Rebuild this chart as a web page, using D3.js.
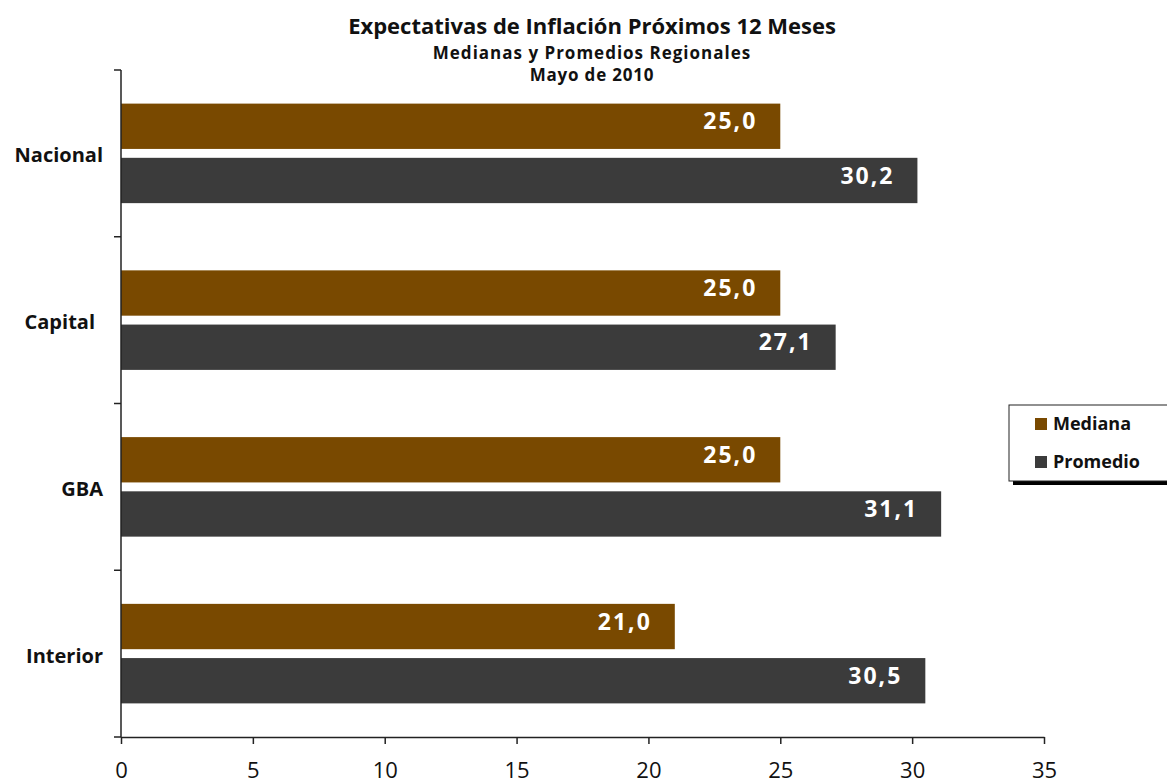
<!DOCTYPE html>
<html>
<head>
<meta charset="utf-8">
<script src="https://cdn.jsdelivr.net/npm/d3@7"></script>
<style>
  body { margin: 0; background: #fff; }
  text { font-family: "Open Sans", "DejaVu Sans", sans-serif; }
</style>
</head>
<body>
<script>
// data
var categories = ["Nacional", "Capital", "GBA", "Interior"]
var series = ["Mediana", "Promedio"]
var mediana = [25.0, 25.0, 25.0, 21.0]
var promedio = [30.2, 27.1, 31.1, 30.5]
var xTicks = [0, 5, 10, 15, 20, 25, 30, 35]
var colors = ["#794900", "#3b3b3b"]

var width = 1167
var height = 783

var svg = d3.select("body")
    .append("svg")
    .attr("width", width)
    .attr("height", height)

var x = d3.scaleLinear().domain([0, 35]).range([121, 1044])
var y = d3.scaleBand().domain(categories).range([70, 737])
var ySub = d3.scaleBand().domain(series).range([0, y.bandwidth()])
    .paddingInner(0.164).paddingOuter(0.62)

var color = d3.scaleOrdinal().domain(series).range(colors)

// titles
var titles = [
    { t: "Expectativas de Inflación Próximos 12 Meses", y: 34, s: 22, ls: 0 },
    { t: "Medianas y Promedios Regionales", y: 59, s: 17, ls: 1 },
    { t: "Mayo de 2010", y: 81, s: 17, ls: 0.8 }
]
svg.selectAll(".title")
    .data(titles)
    .enter()
    .append("text")
    .attr("class", "title")
    .attr("x", 592)
    .attr("y", function(d) { return d.y })
    .attr("text-anchor", "middle")
    .attr("font-weight", "bold")
    .attr("font-size", function(d) { return d.s })
    .attr("letter-spacing", function(d) { return d.ls })
    .attr("fill", "#111")
    .text(function(d) { return d.t })

// bars
var rows = []
categories.forEach(function(c, i) {
    rows.push({ cat: c, ser: "Mediana", v: mediana[i] })
    rows.push({ cat: c, ser: "Promedio", v: promedio[i] })
})

svg.selectAll("rect.bar")
    .data(rows)
    .enter()
    .append("rect")
    .attr("class", "bar")
    .attr("x", x(0))
    .attr("y", function(d) { return y(d.cat) + ySub(d.ser) })
    .attr("width", function(d) { return x(d.v) - x(0) })
    .attr("height", ySub.bandwidth())
    .attr("fill", function(d) { return color(d.ser) })

svg.selectAll("text.val")
    .data(rows)
    .enter()
    .append("text")
    .attr("class", "val")
    .attr("x", function(d) { return x(d.v) - 23 })
    .attr("y", function(d) { return y(d.cat) + ySub(d.ser) + ySub.bandwidth() / 2 - 5 })
    .attr("dy", "0.35em")
    .attr("text-anchor", "end")
    .attr("font-weight", "bold")
    .attr("font-size", 23)
    .attr("letter-spacing", 2)
    .attr("fill", "#fff")
    .text(function(d) { return d3.format(".1f")(d.v).replace(".", ",") })

// x axis
var xAxis = svg.append("g")
    .attr("transform", "translate(0,737)")
    .call(d3.axisBottom(x).tickValues(xTicks).tickSize(7).tickSizeOuter(0).tickPadding(18))
xAxis.select(".domain").attr("stroke", "#222").attr("stroke-width", 1.5)
xAxis.selectAll(".tick line").attr("stroke", "#222").attr("stroke-width", 1.5)
xAxis.selectAll(".tick text")
    .attr("font-size", 22)
    .attr("font-family", "'Open Sans', sans-serif")
    .attr("fill", "#111")

// y axis: line plus ticks at band edges
var edges = categories.map(function(c) { return y(c) }).concat([y.range()[1]])
svg.append("line")
    .attr("x1", x(0)).attr("x2", x(0))
    .attr("y1", y.range()[0]).attr("y2", y.range()[1])
    .attr("stroke", "#222").attr("stroke-width", 1.5)
svg.selectAll("line.ytick")
    .data(edges)
    .enter()
    .append("line")
    .attr("class", "ytick")
    .attr("x1", x(0) - 7).attr("x2", x(0))
    .attr("y1", function(d) { return d }).attr("y2", function(d) { return d })
    .attr("stroke", "#222").attr("stroke-width", 1.5)

svg.selectAll("text.cat")
    .data(categories)
    .enter()
    .append("text")
    .attr("class", "cat")
    .attr("x", function(d) { return d === "Capital" ? 95 : 103 })
    .attr("y", function(d) { return y(d) + y.bandwidth() / 2 + 2 })
    .attr("dy", "0.35em")
    .attr("text-anchor", "end")
    .attr("font-weight", "bold")
    .attr("font-size", 20)
    .attr("fill", "#111")
    .text(function(d) { return d })

// legend
var lg = svg.append("g").attr("transform", "translate(1009,405)")
lg.append("rect")
    .attr("x", 4).attr("y", 4).attr("width", 170).attr("height", 76)
    .attr("fill", "#000")
lg.append("rect")
    .attr("x", 0).attr("y", 0).attr("width", 170).attr("height", 76)
    .attr("fill", "#fff").attr("stroke", "#222").attr("stroke-width", 1)

var items = lg.selectAll("g.item")
    .data(series)
    .enter()
    .append("g")
    .attr("class", "item")
    .attr("transform", function(d, i) { return "translate(26," + (19 + i * 38) + ")" })
items.append("rect")
    .attr("x", 0).attr("y", -6).attr("width", 12).attr("height", 12)
    .attr("fill", function(d) { return color(d) })
items.append("text")
    .attr("x", 18)
    .attr("dy", "0.35em")
    .attr("font-weight", "bold")
    .attr("font-size", 18)
    .attr("fill", "#111")
    .text(function(d) { return d })
</script>
</body>
</html>
